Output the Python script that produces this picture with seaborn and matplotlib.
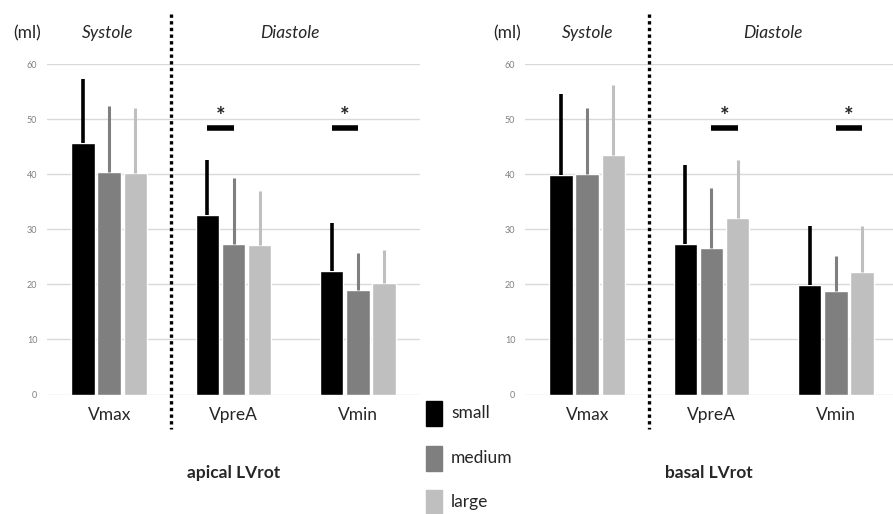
import pandas as pd
import seaborn as sns
import matplotlib.pyplot as plt

sns.set_style("white")
plt.rcParams['font.family'] = ['Lato', 'DejaVu Sans']

categories = ["Vmax", "VpreA", "Vmin"]
groups = ["small", "medium", "large"]
colors = ["#000000", "#7f7f7f", "#bfbfbf"]

apical_small = [45.6, 32.6, 22.4]
apical_medium = [40.4, 27.4, 18.9]
apical_large = [40.3, 27.2, 20.3]
apical_sd_small = [11.6, 10.0, 8.7]
apical_sd_medium = [11.9, 11.9, 6.7]
apical_sd_large = [11.7, 9.8, 6.0]

basal_small = [39.9, 27.4, 19.9]
basal_medium = [40.1, 26.6, 18.7]
basal_large = [43.5, 32.0, 22.3]
basal_sd_small = [14.6, 14.2, 10.7]
basal_sd_medium = [12.0, 10.9, 6.5]
basal_sd_large = [12.6, 10.6, 8.3]

# significant pairs: (category, group a, group b)
apical_sig = [("VpreA", "small", "medium"), ("Vmin", "small", "medium")]
basal_sig = [("VpreA", "medium", "large"), ("Vmin", "medium", "large")]
sig_level = 48.3


def make_df(means, sds):
    rows = []
    for g, m, s in zip(groups, means, sds):
        for c, v, e in zip(categories, m, s):
            rows.append({"cat": c, "group": g, "val": v, "sd": e})
    return pd.DataFrame(rows)


apical = make_df([apical_small, apical_medium, apical_large],
                 [apical_sd_small, apical_sd_medium, apical_sd_large])
basal = make_df([basal_small, basal_medium, basal_large],
                [basal_sd_small, basal_sd_medium, basal_sd_large])

W, H = 893, 514
fig = plt.figure(figsize=(W / 100, H / 100), dpi=100)


def px_axes(x0, x1, ytop, ybot):
    return fig.add_axes([x0 / W, 1 - ybot / H, (x1 - x0) / W, (ybot - ytop) / H])


ax1 = px_axes(47, 420, 64, 394.5)
ax2 = px_axes(525, 893, 64, 394.5)


def draw(ax, df, sig, xmax):
    sns.barplot(data=df, x="cat", y="val", hue="group", order=categories,
                hue_order=groups, palette=colors, width=0.63, gap=0.1,
                errorbar=None, legend=False, ax=ax, saturation=1)
    centers = {}
    for g, col, cont in zip(groups, colors, ax.containers):
        sub = df[df.group == g].set_index("cat").loc[categories]
        for c, bar, v, e in zip(categories, cont, sub.val, sub.sd):
            xc = bar.get_x() + bar.get_width() / 2
            centers[(c, g)] = xc
            ax.vlines(xc, v, v + e, color=col, lw=2.6 if g == "small" else 2.2,
                      zorder=1)
    for c, a, b in sig:
        xa, xb = centers[(c, a)], centers[(c, b)]
        ax.plot([xa, xb], [sig_level, sig_level], color="black", lw=4,
                solid_capstyle="butt")
        ax.text((xa + xb) / 2, sig_level + 0.2, "*", ha="center", va="bottom",
                fontsize=16, fontweight="bold")
    ax.set_ylim(0, 60)
    ax.set_xlim(-0.5, xmax)
    ax.set_yticks(range(0, 61, 10))
    ax.yaxis.grid(True, color="#d9d9d9", lw=1)
    ax.set_axisbelow(True)
    sns.despine(ax=ax, left=True, bottom=True)
    ax.tick_params(axis="y", labelsize=6.5, labelcolor="#808080", pad=7,
                   length=0)
    ax.tick_params(axis="x", labelsize=12.5, pad=9, length=0)
    ax.set_xlabel("")
    ax.set_ylabel("")
    ax.plot([0.5, 0.5], [69.0, -6.2], color="black", lw=2.4,
            linestyle=(0, (1, 1.0)), clip_on=False)


draw(ax1, apical, apical_sig, 2.5)
draw(ax2, basal, basal_sig, 2.46)


def ftext(x, y, s, **kw):
    fig.text(x / W, 1 - y / H, s, ha="center", va="center", **kw)


for off, sys_x, dia_x in [(0, 108, 290), (480, 588, 773)]:
    ftext(27 + off, 33, "(ml)", fontsize=12.5)
    ftext(sys_x, 33, "Systole", fontsize=12.5, style="italic")
    ftext(dia_x, 33, "Diastole", fontsize=12.5, style="italic")

ftext(234, 473, "apical LVrot", fontsize=12.5, fontweight="bold")
ftext(709, 473, "basal LVrot", fontsize=12.5, fontweight="bold")

# legend
for g, col, yc in zip(groups, colors, [413, 458, 502]):
    fig.patches.append(plt.Rectangle((426 / W, 1 - (yc + 12.5) / H), 16 / W,
                                     25 / H, color=col,
                                     transform=fig.transFigure))
    fig.text(451 / W, 1 - yc / H, g, ha="left", va="center", fontsize=12.5)

plt.savefig("out.png", dpi=100)
